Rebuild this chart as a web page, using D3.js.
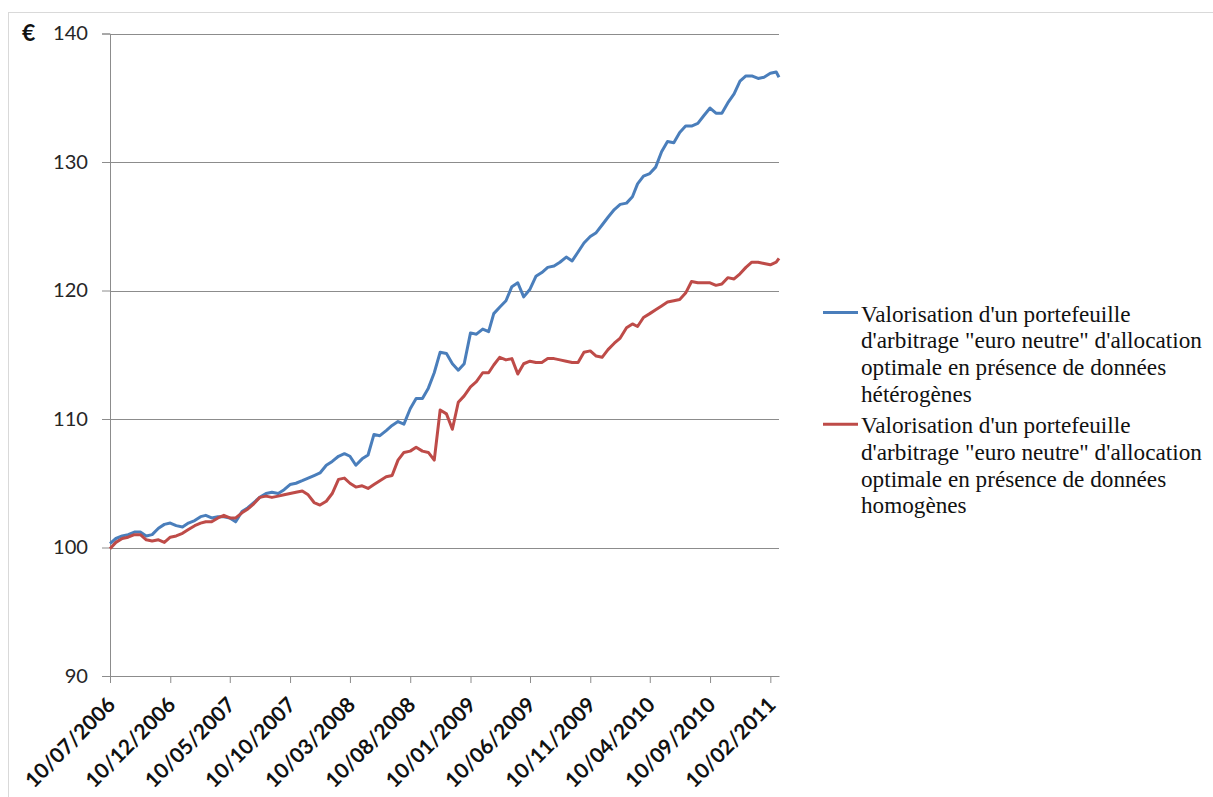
<!DOCTYPE html>
<html>
<head>
<meta charset="utf-8">
<script src="https://cdn.jsdelivr.net/npm/d3@7"></script>
<style>
  body { margin: 0; background: #fff; }
  svg { display: block; }
</style>
</head>
<body>
<svg id="chart"></svg>
<script>
// semi-monthly sample dates
const dates = [
  "2006-07-10","2006-07-25","2006-08-10","2006-08-25","2006-09-10","2006-09-25","2006-10-10","2006-10-25","2006-11-10","2006-11-25","2006-12-10","2006-12-25",
  "2007-01-10","2007-01-25","2007-02-10","2007-02-25","2007-03-10","2007-03-25","2007-04-10","2007-04-25","2007-05-10","2007-05-25","2007-06-10","2007-06-25",
  "2007-07-10","2007-07-25","2007-08-10","2007-08-25","2007-09-10","2007-09-25","2007-10-10","2007-10-25","2007-11-10","2007-11-25","2007-12-10","2007-12-25",
  "2008-01-10","2008-01-25","2008-02-10","2008-02-25","2008-03-10","2008-03-25","2008-04-10","2008-04-25","2008-05-10","2008-05-25","2008-06-10","2008-06-25",
  "2008-07-10","2008-07-25","2008-08-10","2008-08-25","2008-09-10","2008-09-25","2008-10-10","2008-10-25","2008-11-10","2008-11-25","2008-12-10","2008-12-25",
  "2009-01-10","2009-01-25","2009-02-10","2009-02-25","2009-03-10","2009-03-25","2009-04-10","2009-04-25","2009-05-10","2009-05-25","2009-06-10","2009-06-25",
  "2009-07-10","2009-07-25","2009-08-10","2009-08-25","2009-09-10","2009-09-25","2009-10-10","2009-10-25","2009-11-10","2009-11-25","2009-12-10","2009-12-25",
  "2010-01-10","2010-01-25","2010-02-10","2010-02-25","2010-03-10","2010-03-25","2010-04-10","2010-04-25","2010-05-10","2010-05-25","2010-06-10","2010-06-25",
  "2010-07-10","2010-07-25","2010-08-10","2010-08-25","2010-09-10","2010-09-25","2010-10-10","2010-10-25","2010-11-10","2010-11-25","2010-12-10","2010-12-25",
  "2011-01-10","2011-01-25","2011-02-10","2011-02-25","2011-03-04"
];

// portefeuille, données hétérogènes (blue)
const heterogenes = [
  100.3, 100.7, 100.9, 101.0, 101.2, 101.2, 100.9, 101.0, 101.5, 101.8, 101.9, 101.7,
  101.6, 101.9, 102.1, 102.4, 102.5, 102.3, 102.4, 102.4, 102.3, 102.0, 102.8, 103.1,
  103.5, 103.9, 104.2, 104.3, 104.2, 104.5, 104.9, 105.0, 105.2, 105.4, 105.6, 105.8,
  106.4, 106.7, 107.1, 107.3, 107.1, 106.4, 106.9, 107.2, 108.8, 108.7, 109.1, 109.5,
  109.8, 109.6, 110.8, 111.6, 111.6, 112.4, 113.6, 115.2, 115.1, 114.3, 113.8, 114.3,
  116.7, 116.6, 117.0, 116.8, 118.2, 118.7, 119.2, 120.3, 120.6, 119.5, 120.1, 121.1,
  121.4, 121.8, 121.9, 122.2, 122.6, 122.3, 123.0, 123.7, 124.2, 124.5, 125.1, 125.7,
  126.3, 126.7, 126.8, 127.3, 128.3, 128.9, 129.1, 129.6, 130.8, 131.6, 131.5, 132.3,
  132.8, 132.8, 133.0, 133.6, 134.2, 133.8, 133.8, 134.6, 135.3, 136.3, 136.7, 136.7,
  136.5, 136.6, 136.9, 137.0, 136.6
];

// portefeuille, données homogènes (red)
const homogenes = [
  99.9, 100.4, 100.7, 100.8, 101.0, 101.0, 100.6, 100.5, 100.6, 100.4, 100.8, 100.9,
  101.1, 101.4, 101.7, 101.9, 102.0, 102.0, 102.3, 102.5, 102.3, 102.3, 102.7, 103.0,
  103.4, 103.9, 104.0, 103.9, 104.0, 104.1, 104.2, 104.3, 104.4, 104.1, 103.5, 103.3,
  103.6, 104.2, 105.3, 105.4, 105.0, 104.7, 104.8, 104.6, 104.9, 105.2, 105.5, 105.6,
  106.8, 107.4, 107.5, 107.8, 107.5, 107.4, 106.8, 110.7, 110.4, 109.2, 111.3, 111.8,
  112.5, 112.9, 113.6, 113.6, 114.2, 114.8, 114.6, 114.7, 113.5, 114.3, 114.5, 114.4,
  114.4, 114.7, 114.7, 114.6, 114.5, 114.4, 114.4, 115.2, 115.3, 114.9, 114.8, 115.4,
  115.9, 116.3, 117.1, 117.4, 117.2, 117.9, 118.2, 118.5, 118.8, 119.1, 119.2, 119.3,
  119.8, 120.7, 120.6, 120.6, 120.6, 120.4, 120.5, 121.0, 120.9, 121.3, 121.8, 122.2,
  122.2, 122.1, 122.0, 122.2, 122.5
];

const tickLabels = ["10/07/2006","10/12/2006","10/05/2007","10/10/2007","10/03/2008","10/08/2008",
  "10/01/2009","10/06/2009","10/11/2009","10/04/2010","10/09/2010","10/02/2011"];
const yTicks = [90, 100, 110, 120, 130, 140];

const legendLines = [
  ["Valorisation d'un portefeuille", "d'arbitrage \"euro neutre\" d'allocation", "optimale en présence de données", "hétérogènes"],
  ["Valorisation d'un portefeuille", "d'arbitrage \"euro neutre\" d'allocation", "optimale en présence de données", "homogènes"]
];
const colors = ["#4a7ebb", "#be4b48"];

const width = 1213, height = 797;
const parse = d3.timeParse("%Y-%m-%d");
const parseTick = d3.timeParse("%d/%m/%Y");
const sansFont = "Lato, 'Open Sans', sans-serif";

const svg = d3.select("#chart").attr("width", width).attr("height", height);

// outer chart border
svg.append("rect")
  .attr("x", 8.5).attr("y", 12.5)
  .attr("width", 1220).attr("height", 800)
  .attr("fill", "none").attr("stroke", "#d9d9d9");

const x = d3.scaleTime()
  .domain([parse(dates[0]), parse(dates[dates.length - 1])])
  .range([110, 779]);
const y = d3.scaleLinear().domain([90, 140]).range([676, 33.5]);

// y axis
const yAxis = svg.append("g")
  .attr("transform", "translate(110,0)")
  .call(d3.axisLeft(y).tickValues(yTicks).tickSize(8).tickPadding(14));
yAxis.select(".domain").attr("stroke", "#8c8c8c");
yAxis.selectAll(".tick line").attr("stroke", "#8c8c8c");
const yText = yAxis.selectAll(".tick text")
  .attr("font-family", sansFont)
  .attr("font-size", 20).attr("fill", "#262626");
// scale so that "140" is about 35px wide, as in the picture
const w140 = yText.filter(d => d === 140).node().getComputedTextLength();
yText.attr("font-size", 20 * 35 / w140);

// gridlines
svg.append("g").selectAll("line")
  .data(yTicks.filter(d => d > 90))
  .join("line")
  .attr("x1", 110).attr("x2", 779)
  .attr("y1", d => Math.round(y(d)) + 0.5).attr("y2", d => Math.round(y(d)) + 0.5)
  .attr("stroke", "#8c8c8c");

// x axis
const xAxis = svg.append("g")
  .attr("transform", `translate(0,${y(90)})`)
  .call(d3.axisBottom(x)
    .tickValues(tickLabels.map(parseTick))
    .tickFormat(d3.timeFormat("%d/%m/%Y"))
    .tickSize(7).tickSizeOuter(0));
xAxis.select(".domain").attr("stroke", "#8c8c8c");
xAxis.selectAll(".tick line").attr("stroke", "#8c8c8c");
xAxis.selectAll(".tick text")
  .attr("font-family", sansFont)
  .attr("font-size", 21).attr("font-weight", "bold").attr("fill", "#111")
  .attr("text-anchor", "end")
  .attr("dy", "0.35em")
  .attr("transform", "translate(1,25) rotate(-45)")
  .attr("y", 0).attr("x", 0);

// euro unit label
svg.append("text")
  .attr("x", 22).attr("y", 41)
  .attr("font-family", sansFont)
  .attr("font-size", 23).attr("font-weight", "bold").attr("fill", "#111")
  .text("€");

// series
const series = [heterogenes, homogenes];
const line = d3.line()
  .x((d, i) => x(parse(dates[i])))
  .y(d => y(d));

series.forEach((vals, k) => {
  svg.append("path")
    .datum(vals)
    .attr("fill", "none")
    .attr("stroke", colors[k])
    .attr("stroke-width", 3)
    .attr("stroke-linejoin", "round")
    .attr("d", line);
});

// legend
const legendTop = [321.5, 433.3];
legendLines.forEach((lines, k) => {
  const g = svg.append("g");
  g.append("line")
    .attr("x1", 823).attr("x2", 858)
    .attr("y1", legendTop[k] - 9).attr("y2", legendTop[k] - 9)
    .attr("stroke", colors[k]).attr("stroke-width", 3);
  g.selectAll("text")
    .data(lines)
    .join("text")
    .attr("x", 861)
    .attr("y", (d, i) => legendTop[k] + i * 26.7)
    .attr("font-family", "'Liberation Serif', 'Times New Roman', serif")
    .attr("font-size", 23.2)
    .attr("fill", "#111")
    .text(d => d);
});
</script>
</body>
</html>
